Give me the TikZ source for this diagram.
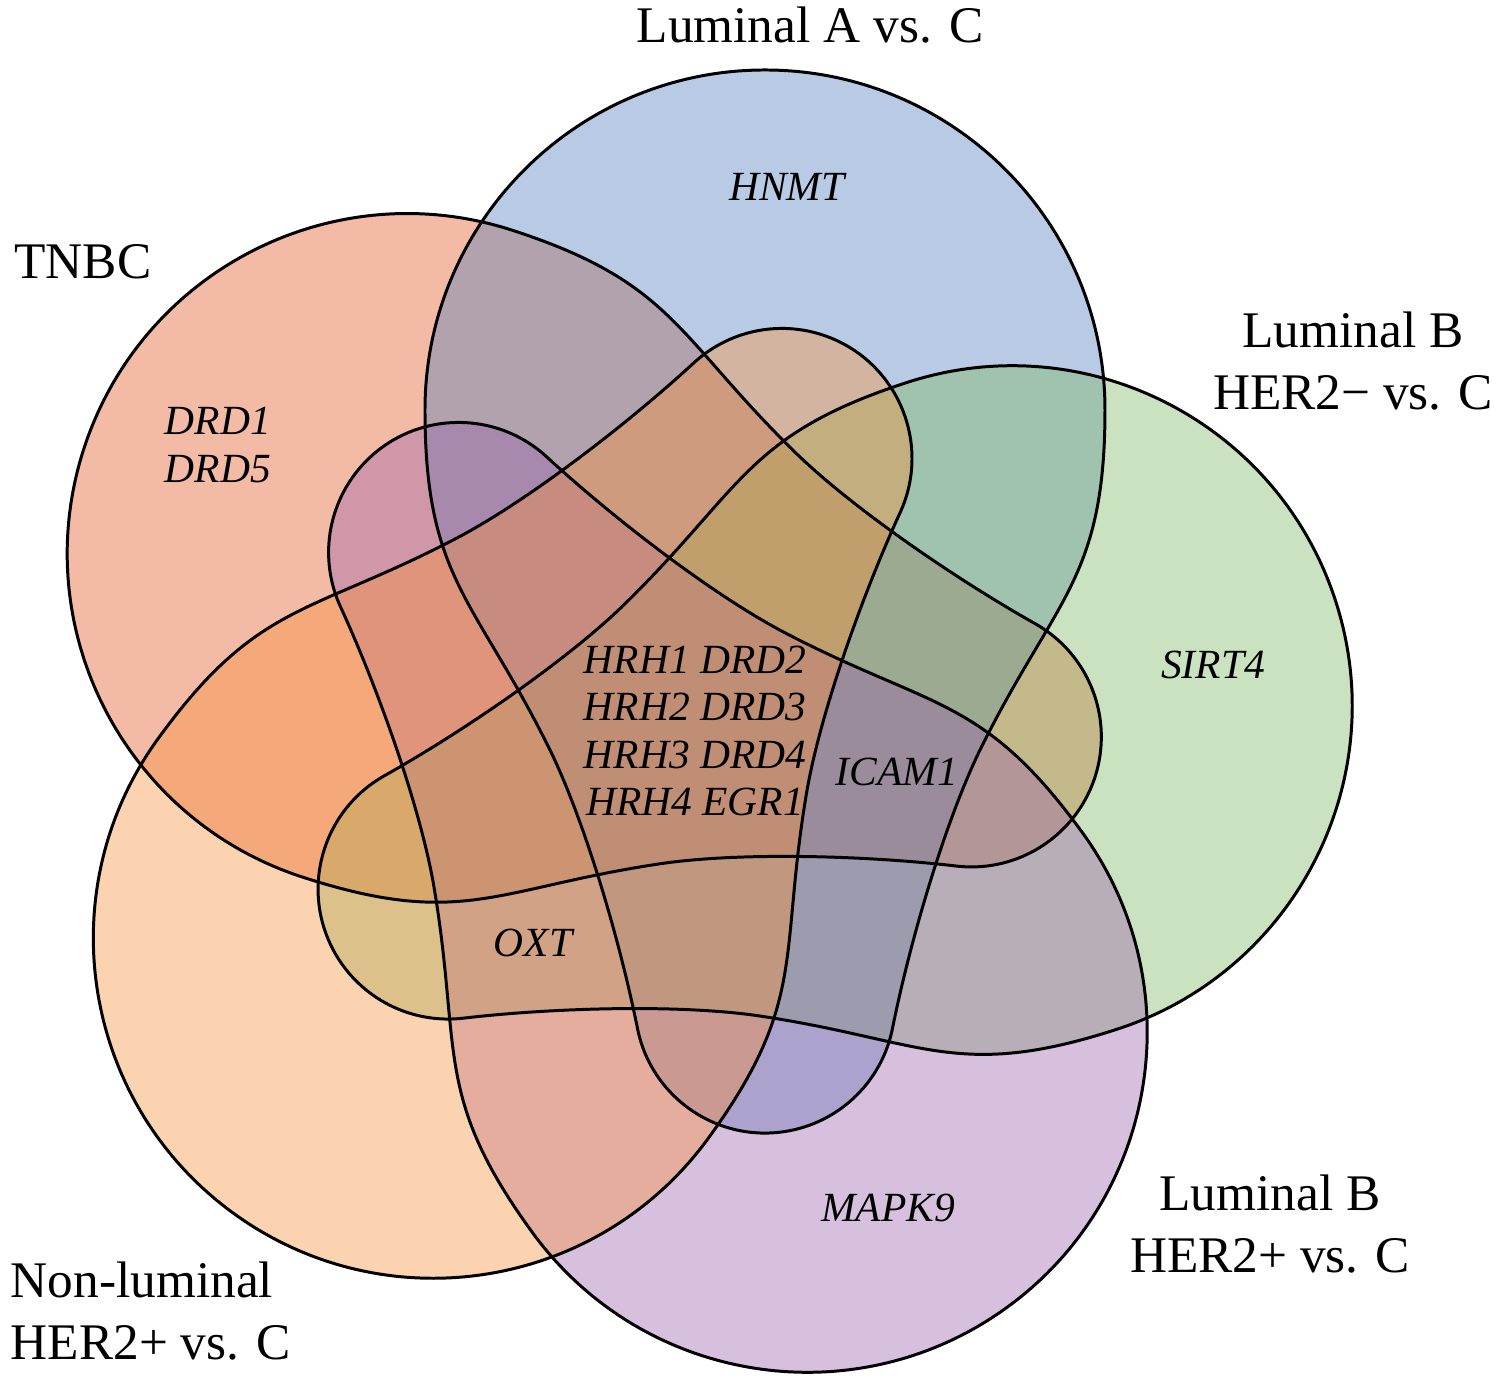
\documentclass[tikz,border=0pt]{standalone}
\usepackage{fontspec}
\setmainfont{Liberation Serif}
\usetikzlibrary{positioning}

\definecolor{tnbcred}{RGB}{225,83,33}
\definecolor{lumablue}{RGB}{80,125,188}
\definecolor{lumbgreen}{RGB}{123,183,98}
\definecolor{lumbpurple}{RGB}{155,98,173}
\definecolor{nonlumorange}{RGB}{248,145,58}

\tikzset{
  outline/.style={draw=black, line width=0.85pt},
  setlabel/.style={font=\fontsize{14.6}{17.6}\selectfont, align=center, inner sep=0pt},
  gene/.style={font=\fontsize{11.8}{13.4}\selectfont\itshape, align=center, inner sep=0pt},
}

% one set: round bulb with a long lobe, axis upwards
\newcommand{\petalshape}{(340,318) arc[start angle=0, end angle=180, radius=340]
  .. controls (-340,148) and (-290,130) .. (-215,-22)
  .. controls (-180,-94) and (-145,-213) .. (-127.4,-301)
  arc[start angle=191.5, end angle=348.5, radius=130]
  .. controls (145,-213) and (180,-94) .. (215,-22)
  .. controls (290,130) and (340,148) .. (340,318) -- cycle}

\begin{document}
\begin{tikzpicture}[x=0.01cm, y=0.01cm]
  \useasboundingbox (-685,-655) rectangle (817,728);

  % Sets
  \foreach \ang/\col in {162/tnbcred, 90/lumablue, 18/lumbgreen, -54/lumbpurple, -126/nonlumorange}
    \fill[\col, fill opacity=0.4, rotate=\ang-90, shift={(80,0)}] \petalshape;
  \foreach \ang in {162, 90, 18, -54, -126}
    \draw[outline, rotate=\ang-90, shift={(80,0)}] \petalshape;

  % Set names
  \node[setlabel] (luma) at (125,703) {Luminal A vs. C};
  \node[setlabel] (tnbc) at (-602,466) {TNBC};
  \node[setlabel] (lumbneg) at (668,367) {Luminal B\\HER2− vs. C};
  \node[setlabel] (lumbpos) at (585,-496) {Luminal B\\HER2+ vs. C};
  \node[setlabel, align=left, anchor=west] (nonlum) at (-675,-583) {Non-luminal\\HER2+ vs. C};

  % Genes
  \node[gene] (hnmt) at (102,541) {HNMT};
  \node[gene] (drd) at (-467,283) {DRD1\\DRD5};
  \node[gene] (sirt) at (528,63) {SIRT4};
  \node[gene] (core) at (10,-3) {HRH1 DRD2\\HRH2 DRD3\\HRH3 DRD4\\HRH4 EGR1};
  \node[gene] (icam) at (212,-44) {ICAM1};
  \node[gene] (oxt) at (-152,-215) {OXT};
  \node[gene] (mapk) at (203,-480) {MAPK9};
\end{tikzpicture}
\end{document}
